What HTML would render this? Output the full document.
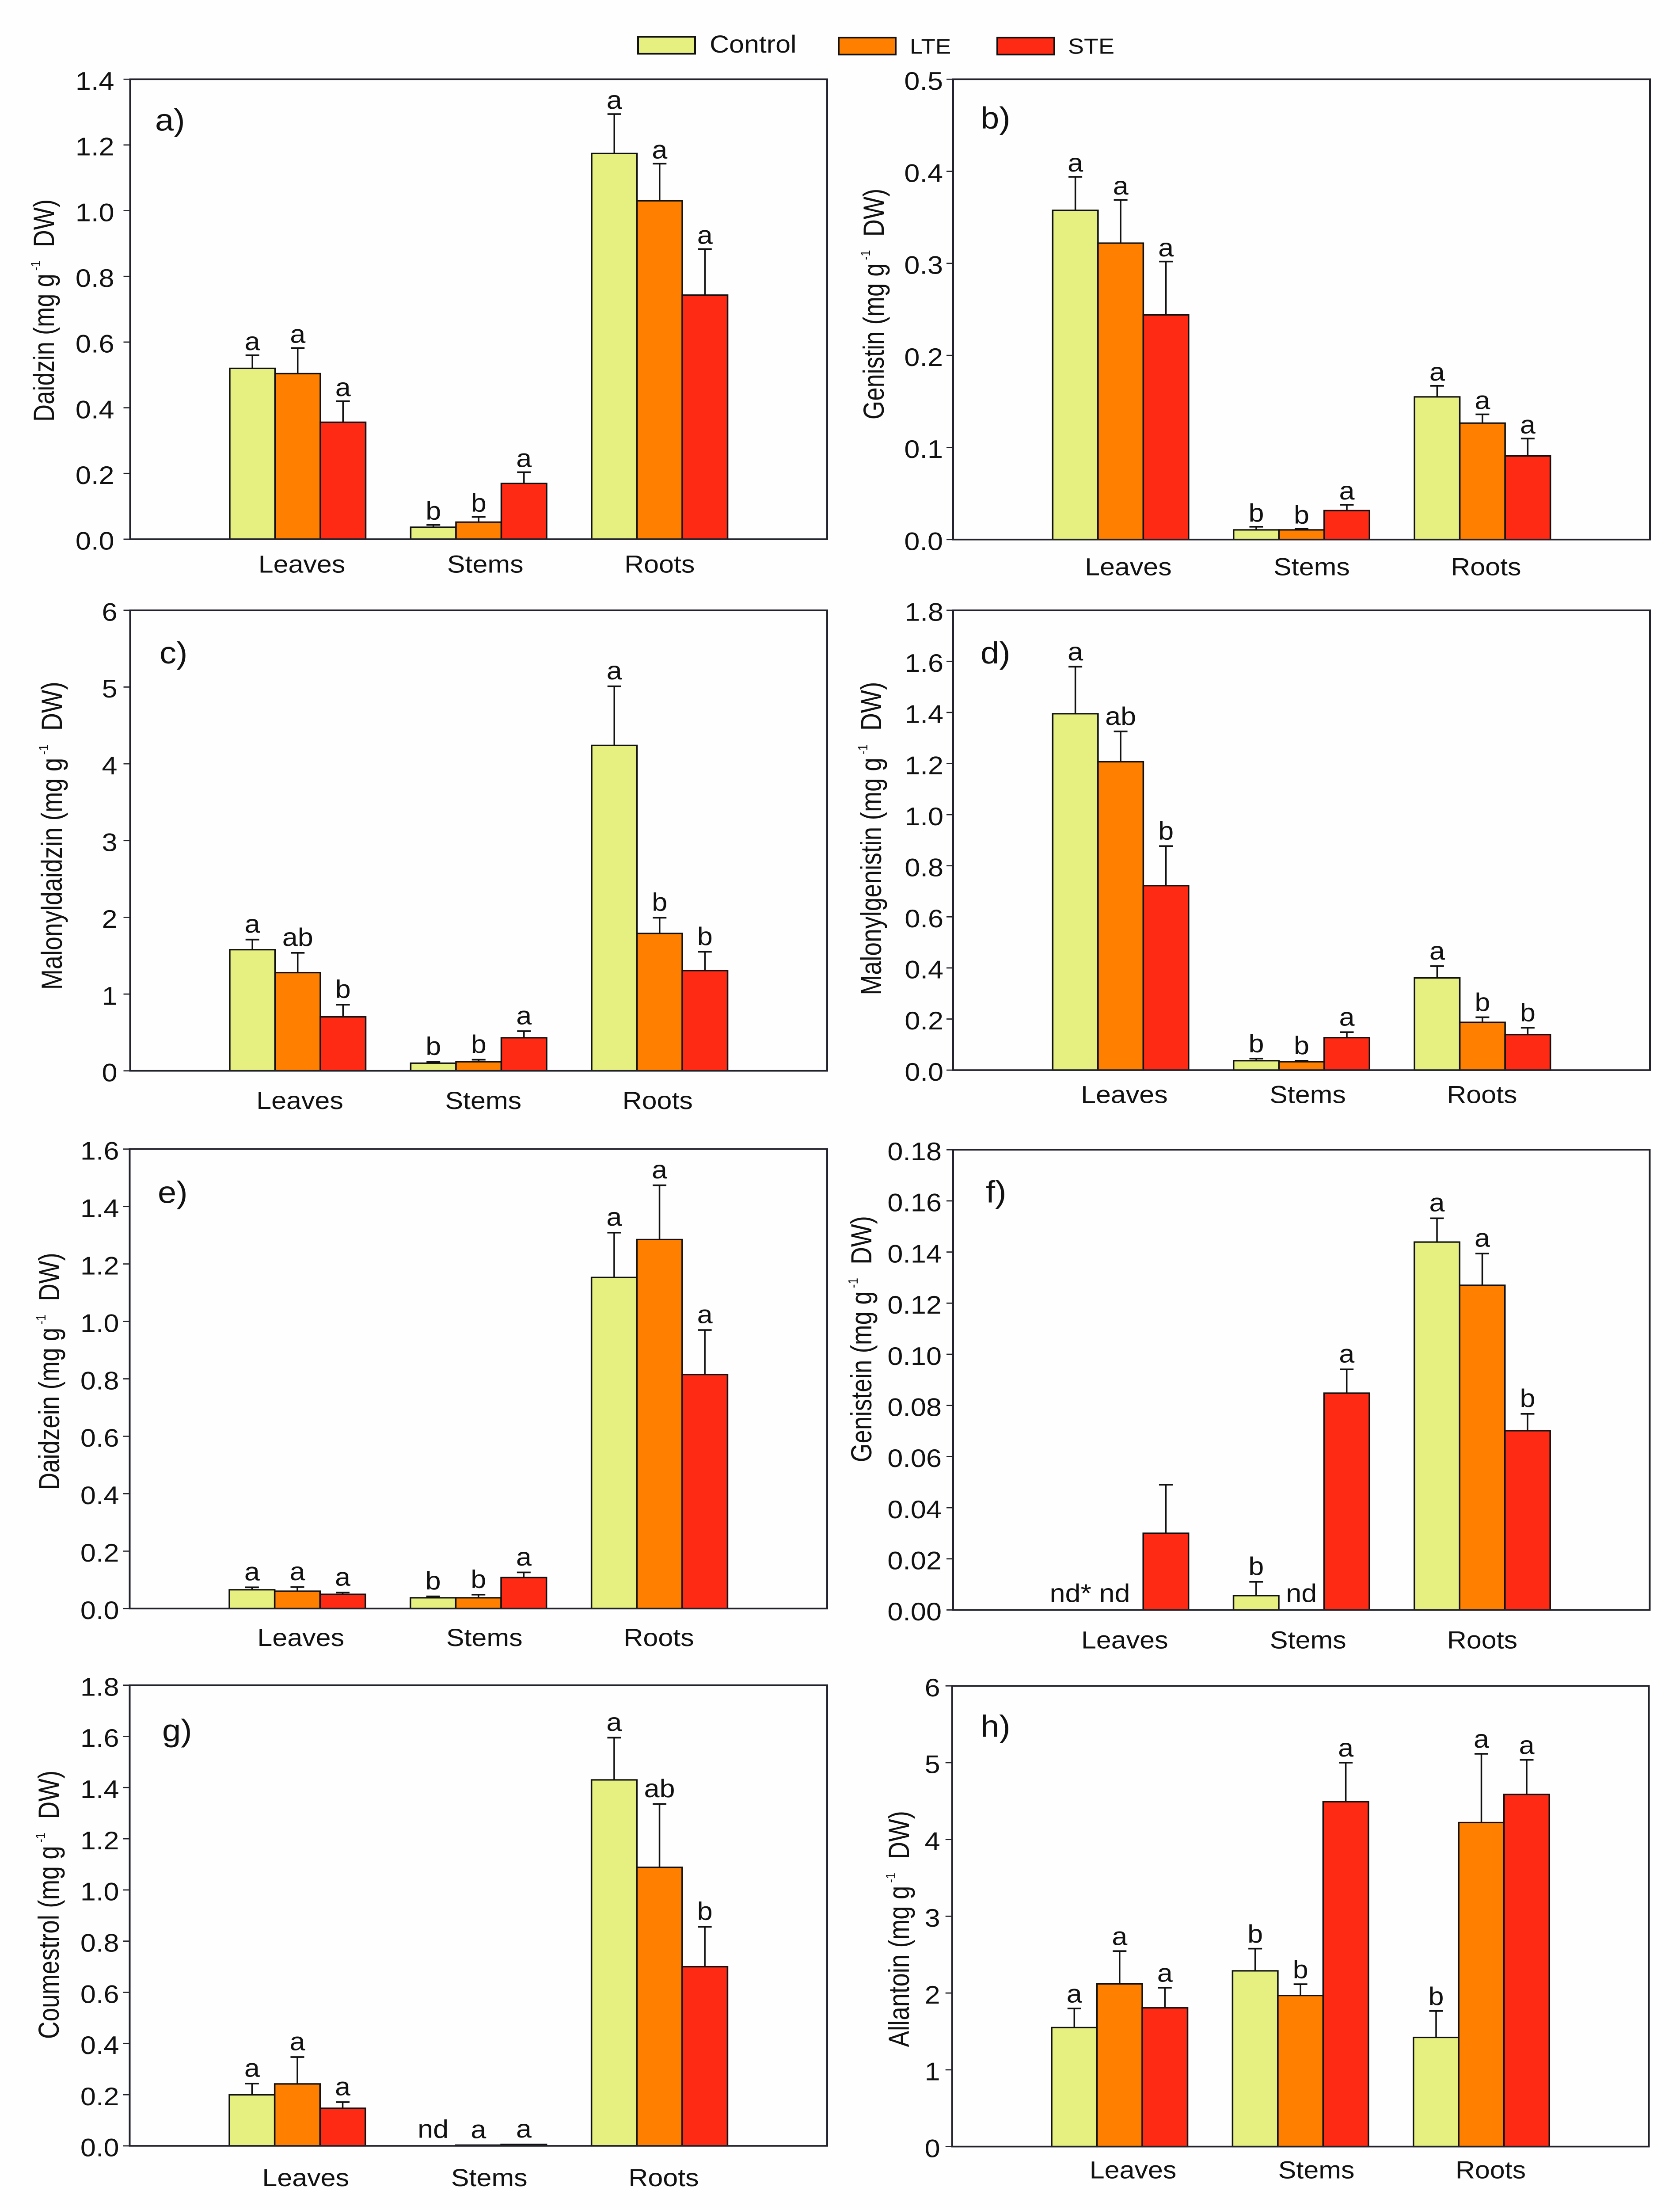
<!DOCTYPE html>
<html lang="en">
<head>
<meta charset="utf-8">
<title>Isoflavone content by organ</title>
<style>
html,body{margin:0;padding:0;background:#fefefe;width:100%;height:100%;overflow:hidden;}
svg{display:block;position:fixed;left:0;top:0;width:100vw;height:100vh;font-family:"Liberation Sans",Arial,sans-serif;}
text{fill:#111;white-space:pre;}
</style>
</head>
<body>
<svg id="figure" xmlns="http://www.w3.org/2000/svg" viewBox="0 0 3802 5466" preserveAspectRatio="none">
  <rect x="0" y="0" width="3802" height="5466" fill="#fefefe"/>
  <g>
    <g>
      <rect x="1444" y="91" width="129" height="42" fill="#e6f081" stroke="#111" stroke-width="4"/>
      <text x="1606" y="130" font-size="61">Control</text>
    </g>
    <g>
      <rect x="1898" y="93" width="129" height="42" fill="#ff7f00" stroke="#111" stroke-width="4"/>
      <text x="2059" y="133" font-size="53">LTE</text>
    </g>
    <g>
      <rect x="2257" y="93" width="129" height="42" fill="#ff2a14" stroke="#111" stroke-width="4"/>
      <text x="2417" y="133" font-size="54">STE</text>
    </g>
  </g>
</svg>
<script>
// Shared categories and series
const categories = ['Leaves', 'Stems', 'Roots'];
const seriesNames = ['Control', 'LTE', 'STE'];
const seriesColors = ['#e6f081', '#ff7f00', '#ff2a14'];

// a) Daidzin — means and error-bar tops, one row per organ (Control, LTE, STE)
const daidzinTicks = ['0.0', '0.2', '0.4', '0.6', '0.8', '1.0', '1.2', '1.4'];
const daidzinMeans = [[0.52, 0.504, 0.356], [0.0365, 0.052, 0.17], [1.174, 1.03, 0.743]];
const daidzinTops = [[0.56, 0.582, 0.42], [0.0436, 0.068, 0.204], [1.294, 1.143, 0.883]];
const daidzinLetters = [['a', 'a', 'a'], ['b', 'b', 'a'], ['a', 'a', 'a']];

// b) Genistin
const genistinTicks = ['0.0', '0.1', '0.2', '0.3', '0.4', '0.5'];
const genistinMeans = [[0.3576, 0.322, 0.244], [0.0105, 0.0105, 0.0315], [0.155, 0.1265, 0.0908]];
const genistinTops = [[0.394, 0.369, 0.302], [0.0139, 0.0118, 0.0378], [0.167, 0.136, 0.1097]];
const genistinLetters = [['a', 'a', 'a'], ['b', 'b', 'a'], ['a', 'a', 'a']];

// c) Malonyldaidzin
const malonyldaidzinTicks = ['0', '1', '2', '3', '4', '5', '6'];
const malonyldaidzinMeans = [[1.578, 1.279, 0.703], [0.1, 0.118, 0.431], [4.24, 1.791, 1.306]];
const malonyldaidzinTops = [[1.71, 1.537, 0.862], [0.118, 0.145, 0.517], [5.01, 1.995, 1.551]];
const malonyldaidzinLetters = [['a', 'ab', 'b'], ['b', 'b', 'a'], ['a', 'b', 'b']];

// d) Malonylgenistin
const malonylgenistinTicks = ['0.0', '0.2', '0.4', '0.6', '0.8', '1.0', '1.2', '1.4', '1.6', '1.8'];
const malonylgenistinMeans = [[1.395, 1.207, 0.722], [0.0368, 0.0327, 0.127], [0.361, 0.187, 0.139]];
const malonylgenistinTops = [[1.579, 1.326, 0.877], [0.045, 0.0368, 0.1485], [0.407, 0.207, 0.166]];
const malonylgenistinLetters = [['a', 'ab', 'b'], ['b', 'b', 'a'], ['a', 'b', 'b']];

// e) Daidzein
const daidzeinTicks = ['0.0', '0.2', '0.4', '0.6', '0.8', '1.0', '1.2', '1.4', '1.6'];
const daidzeinMeans = [[0.0655, 0.0606, 0.0497], [0.0376, 0.0376, 0.108], [1.153, 1.285, 0.815]];
const daidzeinTops = [[0.074, 0.075, 0.0558], [0.0424, 0.0485, 0.126], [1.309, 1.474, 0.97]];
const daidzeinLetters = [['a', 'a', 'a'], ['b', 'b', 'a'], ['a', 'a', 'a']];

// f) Genistein (null = not detected)
const genisteinTicks = ['0.00', '0.02', '0.04', '0.06', '0.08', '0.10', '0.12', '0.14', '0.16', '0.18'];
const genisteinMeans = [[null, null, 0.03], [0.0056, null, 0.0848], [0.1439, 0.127, 0.0701]];
const genisteinTops = [[null, null, 0.049], [0.011, null, 0.0941], [0.1532, 0.1394, 0.0767]];
const genisteinLetters = [['nd* nd', '', ''], ['b', 'nd', 'a'], ['a', 'a', 'b']];

// g) Coumestrol
const coumestrolTicks = ['0.0', '0.2', '0.4', '0.6', '0.8', '1.0', '1.2', '1.4', '1.6', '1.8'];
const coumestrolMeans = [[0.1995, 0.242, 0.147], [null, 0.003, 0.006], [1.43, 1.0885, 0.7]];
const coumestrolTops = [[0.2436, 0.347, 0.171], [null, 0.003, 0.006], [1.595, 1.336, 0.856]];
const coumestrolLetters = [['a', 'a', 'a'], ['nd', 'a', 'a'], ['a', 'ab', 'b']];

// h) Allantoin
const allantoinTicks = ['0', '1', '2', '3', '4', '5', '6'];
const allantoinMeans = [[1.55, 2.119, 1.807], [2.289, 1.968, 4.491], [1.422, 4.22, 4.587]];
const allantoinTops = [[1.798, 2.546, 2.069], [2.578, 2.115, 5.0], [1.766, 5.115, 5.037]];
const allantoinLetters = [['a', 'a', 'a'], ['b', 'b', 'a'], ['b', 'a', 'a']];

const panels = [
  { id: 'a', compound: 'Daidzin', ticks: daidzinTicks, means: daidzinMeans, tops: daidzinTops, letters: daidzinLetters,
    box: [294.5, 1872, 196, 1333.6], tickGap: 36, titleX: 122, titleY: 768, titleLen: 550, gap: 13, catShift: 0, catY: 1416, tagX: 351, tagY: 323 },
  { id: 'b', compound: 'Genistin', ticks: genistinTicks, means: genistinMeans, tops: genistinTops, letters: genistinLetters,
    box: [2157, 3734, 196, 1334.5], tickGap: 23, titleX: 2000, titleY: 752, titleLen: 571, gap: 13, catShift: 8, catY: 1423, tagX: 2219, tagY: 318 },
  { id: 'c', compound: 'Malonyldaidzin', ticks: malonyldaidzinTicks, means: malonyldaidzinMeans, tops: malonyldaidzinTops, letters: malonyldaidzinLetters,
    box: [294.5, 1872, 1509.4, 2648.5], tickGap: 29, titleX: 140, titleY: 2067, titleLen: 762, gap: 17, catShift: -4.5, catY: 2743, tagX: 361, tagY: 1641 },
  { id: 'd', compound: 'Malonylgenistin', ticks: malonylgenistinTicks, means: malonylgenistinMeans, tops: malonylgenistinTops, letters: malonylgenistinLetters,
    box: [2157, 3734, 1509.4, 2646.7], tickGap: 22, titleX: 1994, titleY: 2074, titleLen: 775, gap: 16, catShift: -1, catY: 2728, tagX: 2219, tagY: 1641 },
  { id: 'e', compound: 'Daidzein', ticks: daidzeinTicks, means: daidzeinMeans, tops: daidzeinTops, letters: daidzeinLetters,
    box: [293.5, 1872, 2842, 3978.5], tickGap: 24, titleX: 134, titleY: 3392, titleLen: 587, gap: 17, catShift: -1.5, catY: 4071, tagX: 357, tagY: 2975 },
  { id: 'f', compound: 'Genistein', ticks: genisteinTicks, means: genisteinMeans, tops: genisteinTops, letters: genisteinLetters,
    box: [2157, 3733.5, 2843.7, 3981.9], tickGap: 26, titleX: 1972, titleY: 3312, titleLen: 609, gap: 17, catShift: 0, catY: 4077, tagX: 2231, tagY: 2974, firstLetterDx: 33 },
  { id: 'g', compound: 'Coumestrol', ticks: coumestrolTicks, means: coumestrolMeans, tops: coumestrolTops, letters: coumestrolLetters,
    box: [293.5, 1872, 4168, 5307.4], tickGap: 24, titleX: 133, titleY: 4711, titleLen: 664, gap: 17, catShift: 9.5, catY: 5407, tagX: 367, tagY: 4306 },
  { id: 'h', compound: 'Allantoin', ticks: allantoinTicks, means: allantoinMeans, tops: allantoinTops, letters: allantoinLetters,
    box: [2154.7, 3731.6, 4169.7, 5309.2], tickGap: 27, titleX: 2057, titleY: 4771, titleLen: 584, gap: 15, catShift: 21, catY: 5388, tagX: 2219, tagY: 4296 }
];

const catOffsets = [9.3, 15, 0];
const SVG_NS = 'http://www.w3.org/2000/svg';
const INK = '#111';
const AXIS = '#22222c';
const figure = document.getElementById('figure');

function mk(tag, attrs, parent) {
  const el = document.createElementNS(SVG_NS, tag);
  for (const k in attrs) el.setAttribute(k, attrs[k]);
  parent.appendChild(el);
  return el;
}

function drawPanel(p) {
  const [x0, x1, yTop, yBot] = p.box;
  const W = x1 - x0;
  const yMax = parseFloat(p.ticks[p.ticks.length - 1]);
  const yScale = v => yBot - (v / yMax) * (yBot - yTop);
  const groupCenter = i => x0 + W * (0.5 + (i - 1) * 0.2596);
  const barW = W * 0.065;
  const barX = (i, s) => groupCenter(i) + (s - 1.5) * barW;
  const key = p.compound.toLowerCase();

  const g = mk('g', {}, figure);
  
  

  // Bars and error bars
  categories.forEach((cat, i) => {
    seriesNames.forEach((ser, s) => {
      const v = p.means[i][s];
      const top = p.tops[i][s];
      const cx = barX(i, s) + barW / 2;
      if (v !== null) {
        const bar = mk('rect', { x: barX(i, s), y: yScale(v), width: barW, height: yBot - yScale(v), fill: seriesColors[s], stroke: INK, 'stroke-width': 3.5 }, g);
        
        
        if (top !== null && top > v) {
          const stem = mk('line', { x1: cx, x2: cx, y1: yScale(v), y2: yScale(top), stroke: INK, 'stroke-width': 3.5 }, g);
          
          
          const cap = mk('line', { x1: cx - 15.5, x2: cx + 15.5, y1: yScale(top), y2: yScale(top), stroke: INK, 'stroke-width': 4 }, g);
          
          
        }
      }
      const word = p.letters[i][s];
      if (word) {
        const base = (top !== null ? yScale(top) - p.gap : yBot - 20);
        const dx = (i === 0 && s === 0 && p.firstLetterDx) ? p.firstLetterDx : 0;
        const letter = mk('text', { x: cx + dx, y: base, 'font-size': 63, 'text-anchor': 'middle' }, g);
        letter.textContent = word;
        
        
      }
    });

    const label = mk('text', { x: groupCenter(i) + catOffsets[i] + p.catShift, y: p.catY, 'font-size': 61, 'text-anchor': 'middle' }, g);
    label.textContent = cat;
    
    
  });

  // Frame
  const frame = mk('rect', { x: x0, y: yTop, width: W, height: yBot - yTop, fill: 'none', stroke: AXIS, 'stroke-width': 4 }, g);
  
  

  // Y ticks
  p.ticks.forEach(t => {
    const v = parseFloat(t);
    const y = yScale(v);
    const tick = mk('line', { x1: x0 - 15, x2: x0, y1: y, y2: y, stroke: AXIS, 'stroke-width': 3 }, g);
    
    
    const lab = mk('text', { x: x0 - p.tickGap, y: y + 26, 'font-size': 63, 'text-anchor': 'end' }, g);
    lab.textContent = t;
    
    
  });

  // Y title: drawn at the measured cross size, then fitted along its length
  const title = mk('text', { 'font-size': 66, 'text-anchor': 'middle' }, g);
  
  
  const t1 = mk('tspan', {}, title);
  t1.textContent = p.compound + ' (mg g';
  const t2 = mk('tspan', { 'font-size': 31, dy: -31 }, title);
  t2.textContent = ' -1';
  const t3 = mk('tspan', { dy: 31 }, title);
  t3.textContent = '  DW)';
  const fit = p.titleLen / title.getComputedTextLength();
  title.setAttribute('transform', 'translate(' + p.titleX + ',' + p.titleY + ') rotate(-90) scale(' + fit + ',1)');

  // Panel tag
  const tag = mk('text', { x: p.tagX, y: p.tagY, 'font-size': 76 }, g);
  tag.textContent = p.id + ')';
  
  
}

panels.forEach(drawPanel);
</script>
</body>
</html>
